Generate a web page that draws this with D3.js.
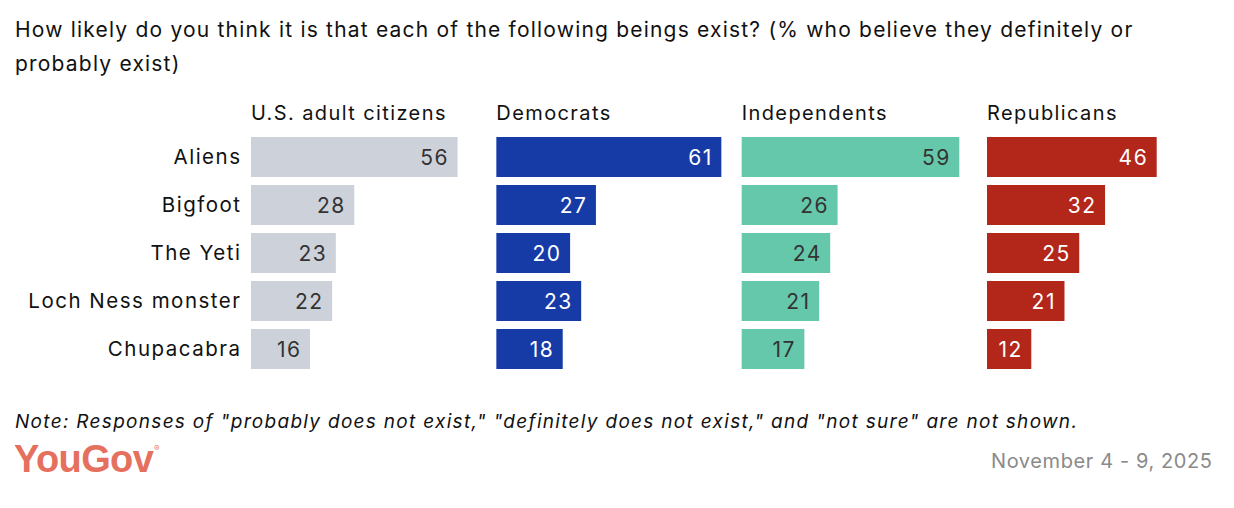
<!DOCTYPE html>
<html>
<head>
<meta charset="utf-8">
<script src="https://cdn.jsdelivr.net/npm/d3@7"></script>
<style>
  body { margin: 0; background: #fff; }
  svg { display: block; font-family: Inter, "Noto Sans", sans-serif; }
</style>
</head>
<body>
<svg id="chart"></svg>
<script>
const beings = ["Aliens", "Bigfoot", "The Yeti", "Loch Ness monster", "Chupacabra"];
const groups = ["U.S. adult citizens", "Democrats", "Independents", "Republicans"];
const usAdults = [56, 28, 23, 22, 16];
const democrats = [61, 27, 20, 23, 18];
const independents = [59, 26, 24, 21, 17];
const republicans = [46, 32, 25, 21, 12];

const seriesValues = [usAdults, democrats, independents, republicans];
const barColors = ["#cdd1da", "#173ba6", "#65c8aa", "#b3261a"];
const labelColors = ["#333", "#fff", "#333", "#fff"];

const width = 1234, height = 508;
const ls = 1.4; // letter spacing used for the body text

const svg = d3.select("#chart")
  .attr("width", width)
  .attr("height", height);

// title
const title = svg.append("text")
  .attr("x", 15)
  .attr("font-size", 21)
  .attr("letter-spacing", 1.2)
  .attr("fill", "#111");
title.append("tspan").attr("x", 15).attr("y", 37)
  .text("How likely do you think it is that each of the following beings exist? (% who believe they definitely or");
title.append("tspan").attr("x", 15).attr("y", 71)
  .text("probably exist)");

// scales
const panelX = d3.scaleBand()
  .domain(groups)
  .range([251, 1212])
  .paddingInner(0.083);

// 5 rows, 40px bars on a 48px pitch
const y = d3.scaleBand()
  .domain(beings)
  .range([137, 369])
  .paddingInner(8 / 48);

const x = d3.scaleLinear()
  .domain([0, 61])
  .range([0, 225]);

// row labels
svg.append("g")
  .selectAll("text")
  .data(beings)
  .join("text")
  .attr("x", 240 + 1.5)
  .attr("y", (d) => y(d) + y.bandwidth() / 2)
  .attr("dy", "0.34em")
  .attr("text-anchor", "end")
  .attr("font-size", 20.5)
  .attr("letter-spacing", 1.5)
  .attr("fill", "#111")
  .text((d) => d);

// panels
groups.forEach((grp, i) => {
  const g = svg.append("g")
    .attr("transform", `translate(${panelX(grp)},0)`);

  g.append("text")
    .attr("x", 0)
    .attr("y", 120)
    .attr("font-size", 20)
    .attr("letter-spacing", ls)
    .attr("fill", "#111")
    .text(grp);

  const rows = beings.map((b, j) => ({ being: b, value: seriesValues[i][j] }));

  g.selectAll("rect")
    .data(rows)
    .join("rect")
    .attr("x", 0)
    .attr("y", (d) => y(d.being))
    .attr("width", (d) => x(d.value))
    .attr("height", y.bandwidth())
    .attr("fill", barColors[i]);

  g.selectAll("text.val")
    .data(rows)
    .join("text")
    .attr("class", "val")
    .attr("x", (d) => x(d.value) - 10 + 1.5)
    .attr("y", (d) => y(d.being) + y.bandwidth() / 2)
    .attr("dy", "0.36em")
    .attr("text-anchor", "end")
    .attr("font-size", 21)
    .attr("letter-spacing", 1.5)
    .attr("fill", labelColors[i])
    .text((d) => d.value);
});

// note
svg.append("text")
  .attr("x", 15)
  .attr("y", 428)
  .attr("font-size", 19)
  .attr("font-style", "italic")
  .attr("letter-spacing", 1.3)
  .attr("fill", "#111")
  .text('Note: Responses of "probably does not exist," "definitely does not exist," and "not sure" are not shown.');

// logo
svg.append("text")
  .attr("x", 14)
  .attr("y", 472)
  .attr("font-family", "'Liberation Sans', Arial, sans-serif")
  .attr("font-weight", "bold")
  .attr("font-size", 38)
  .attr("letter-spacing", -0.6)
  .attr("fill", "#e6705e")
  .text("YouGov");
svg.append("text")
  .attr("x", 154)
  .attr("y", 451)
  .attr("font-size", 8)
  .attr("fill", "#e6705e")
  .text("®");

// date
svg.append("text")
  .attr("x", 1212 + 0.6)
  .attr("y", 468)
  .attr("text-anchor", "end")
  .attr("font-size", 20)
  .attr("letter-spacing", 0.6)
  .attr("fill", "#8a8a8a")
  .text("November 4 - 9, 2025");
</script>
</body>
</html>
